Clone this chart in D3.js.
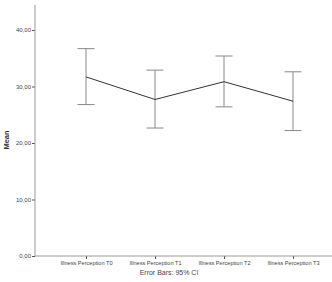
<!DOCTYPE html>
<html>
<head>
<meta charset="utf-8">
<script src="https://cdn.jsdelivr.net/npm/d3@7"></script>
<style>
  body { margin: 0; background: #fff; }
  text { font-family: "Liberation Sans", Arial, sans-serif; }
</style>
</head>
<body>
<div id="chart"></div>
<script>
// Mean + 95% CI theo thời điểm
const categories = ["Illness Perception T0", "Illness Perception T1", "Illness Perception T2", "Illness Perception T3"];
const means = [31.7, 27.7, 30.85, 27.4];
const lower = [26.8, 22.65, 26.4, 22.2];
const upper = [36.7, 32.9, 35.4, 32.6];
const yTicks = [0, 10, 20, 30, 40];

const data = categories.map((c, i) => ({ cat: c, mean: means[i], lo: lower[i], hi: upper[i] }));

const width = 332, height = 282;
const fmt = v => d3.format(".2f")(v).replace(".", ",");

const x = d3.scalePoint()
  .domain(categories)
  .range([51.5, 327.5])
  .padding(0.5);

const y = d3.scaleLinear()
  .domain([0, 40])
  .range([256, 30]);

const svg = d3.select("#chart").append("svg")
  .attr("width", width)
  .attr("height", height);

// trục y
svg.append("g")
  .attr("transform", "translate(35,0)")
  .call(d3.axisLeft(y).tickValues(yTicks).tickFormat(fmt).tickSize(3).tickPadding(1))
  .call(g => g.select(".domain").remove())
  .call(g => g.selectAll(".tick line").attr("stroke", "#555"))
  .call(g => g.selectAll(".tick text").attr("font-size", 6).attr("fill", "#444"));

svg.append("line")
  .attr("x1", 35).attr("x2", 35)
  .attr("y1", 5).attr("y2", y(0))
  .attr("stroke", "#999");

// trục x
svg.append("g")
  .attr("transform", `translate(0,${y(0)})`)
  .call(d3.axisBottom(x).tickSize(3).tickPadding(2))
  .call(g => g.select(".domain").remove())
  .call(g => g.selectAll(".tick line").attr("stroke", "#555"))
  .call(g => g.selectAll(".tick text").attr("font-size", 5.6).attr("fill", "#444"));

svg.append("line")
  .attr("x1", 35).attr("x2", 332)
  .attr("y1", y(0)).attr("y2", y(0))
  .attr("stroke", "#999");

// error bars
const eb = svg.append("g").attr("stroke", "#888").attr("stroke-width", 1);
eb.selectAll("line.v").data(data).join("line")
  .attr("x1", d => x(d.cat)).attr("x2", d => x(d.cat))
  .attr("y1", d => y(d.lo)).attr("y2", d => y(d.hi));
eb.selectAll("line.hi").data(data).join("line")
  .attr("x1", d => x(d.cat) - 8.5).attr("x2", d => x(d.cat) + 8.5)
  .attr("y1", d => y(d.hi)).attr("y2", d => y(d.hi));
eb.selectAll("line.lo").data(data).join("line")
  .attr("x1", d => x(d.cat) - 8.5).attr("x2", d => x(d.cat) + 8.5)
  .attr("y1", d => y(d.lo)).attr("y2", d => y(d.lo));

// đường mean
svg.append("path")
  .datum(data)
  .attr("fill", "none")
  .attr("stroke", "#333")
  .attr("stroke-width", 1)
  .attr("d", d3.line().x(d => x(d.cat)).y(d => y(d.mean)));

// nhãn
svg.append("text")
  .attr("transform", "translate(9,140) rotate(-90)")
  .attr("text-anchor", "middle")
  .attr("font-size", 7.5).attr("font-weight", "bold").attr("fill", "#333")
  .text("Mean");

svg.append("text")
  .attr("x", 169).attr("y", 275)
  .attr("text-anchor", "middle")
  .attr("font-size", 7).attr("fill", "#444")
  .text("Error Bars: 95% CI");
</script>
</body>
</html>
